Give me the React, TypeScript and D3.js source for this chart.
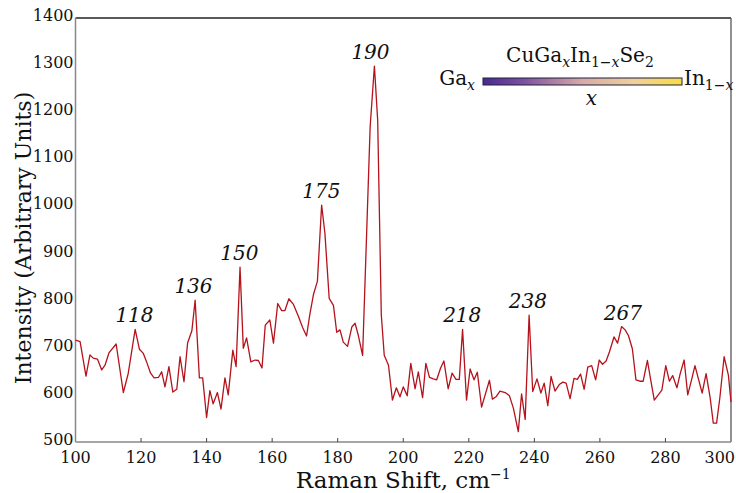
import React from 'react';
import * as d3 from 'd3';

// Raman spectrum
const ramanShift = [
  100, 101.4, 103.2, 104.4, 105.4, 106.7, 108, 109, 110.2, 112.4, 114.6, 116.1, 118.2, 119.5, 120.7, 121.7,
  122.9, 124, 125.3, 126.3, 127.3, 128.5, 129.7, 130.9, 131.9, 133.1, 134.2, 135.5, 136.5, 137.8, 138.8, 140,
  141, 142, 143.3, 144.4, 145.6, 146.6, 148, 149, 150.2, 151.2, 152.2, 153.5, 154.8, 155.8, 156.9, 157.9,
  159.3, 160.4, 161.7, 162.9, 163.9, 165.1, 166.5, 168, 169.3, 170.5, 171.5, 172.6, 173.8, 175.1, 176.1, 177.4,
  178.7, 179.7, 180.7, 181.7, 183, 184.3, 185.3, 186.3, 187.6, 189.9, 191.2, 192.2, 193.3, 194.2, 195.5, 196.7,
  197.9, 199, 200, 201.2, 202.3, 203.6, 204.6, 205.9, 206.9, 208, 209.2, 210.2, 211.4, 212.4, 213.7, 214.9,
  216.1, 217.1, 218.1, 219.3, 220.4, 221.6, 222.6, 223.9, 226.3, 227.2, 228.3, 229.5, 231.1, 232.4, 233.6, 235.1,
  236.1, 237.2, 238.4, 239.5, 240.8, 242, 243, 244.1, 245.1, 246.3, 247.6, 248.7, 249.7, 250.9, 252.1, 253.1,
  254.1, 255.2, 256.3, 257.5, 258.7, 259.8, 260.8, 261.9, 262.9, 264.3, 265.4, 266.6, 267.7, 268.7, 269.9, 271,
  272.2, 273.2, 274.5, 275.5, 276.6, 277.8, 278.9, 280.1, 281.2, 282.2, 283.5, 284.5, 285.7, 286.8, 288, 289,
  290.1, 291.2, 292.4, 293.6, 294.6, 295.6, 296.6, 297.9, 299.2, 300,
];
const intensity = [
  716, 713, 640, 685, 678, 676, 653, 663, 689, 708, 605, 646, 739, 697, 688, 670,
  646, 636, 637, 649, 617, 660, 606, 612, 681, 628, 710, 736, 801, 636, 636, 552,
  609, 581, 605, 570, 636, 600, 695, 660, 871, 699, 721, 670, 674, 673, 657, 748,
  759, 710, 794, 779, 779, 804, 792, 767, 743, 725, 771, 813, 841, 1003, 943, 805,
  790, 733, 738, 712, 703, 744, 752, 726, 684, 1169, 1298, 1183, 770, 684, 663, 589,
  615, 596, 617, 598, 667, 613, 649, 594, 667, 637, 634, 632, 657, 672, 613, 646,
  633, 633, 739, 589, 655, 632, 648, 574, 631, 591, 596, 608, 605, 598, 572, 522,
  602, 548, 769, 607, 634, 604, 625, 577, 639, 608, 622, 627, 625, 592, 635, 633,
  644, 612, 659, 662, 632, 674, 665, 672, 691, 723, 710, 745, 738, 726, 698, 632,
  629, 629, 673, 632, 589, 600, 610, 662, 629, 641, 615, 645, 674, 600, 633, 662,
  633, 604, 645, 596, 540, 540, 594, 681, 642, 585,
];

// labelled peaks
const peakShift = [118, 136, 150, 175, 190, 218, 238, 267];
const peakIntensity = [739, 801, 871, 1003, 1298, 739, 769, 745];

const xTicks = [100, 120, 140, 160, 180, 200, 220, 240, 260, 280, 300];
const yTicks = [500, 600, 700, 800, 900, 1000, 1100, 1200, 1300, 1400];

const width = 736;
const height = 493;
const margins = { top: 18, right: 5, bottom: 51, left: 75.5 };
const serif = "'DejaVu Serif', serif";

export default function App() {
  const x = d3.scaleLinear().domain([100, 300]).range([margins.left, width - margins.right]);
  const y = d3.scaleLinear().domain([500, 1400]).range([height - margins.bottom, margins.top]);

  const points: [number, number][] = ramanShift.map((s, i) => [s, intensity[i]]);
  const line = d3.line<[number, number]>()
    .x(d => x(d[0]))
    .y(d => y(d[1]));

  const x0 = x(100), x1 = x(300), yb = y(500), yt = y(1400);

  // legend box
  const barX = 483, barY = 78, barW = 199, barH = 7;
  const tx = { fontFamily: serif };

  return (
    <svg width={width} height={height} style={{ position: 'absolute', left: 0, top: 0, background: '#fff' }}>
      <defs>
        <linearGradient id="cbar" x1="0" x2="1" y1="0" y2="0">
          <stop offset="0" stopColor="#4a2a8c" />
          <stop offset="0.2" stopColor="#7d4f9e" />
          <stop offset="0.5" stopColor="#d8aaa6" />
          <stop offset="0.75" stopColor="#efcf9c" />
          <stop offset="1" stopColor="#fadc45" />
        </linearGradient>
      </defs>

      {/* frame */}
      <line x1={x0} x2={x1} y1={yt} y2={yt} stroke="#222" strokeWidth={1.3} />
      <line x1={x1} x2={x1} y1={yt} y2={yb} stroke="#555" strokeWidth={1.3} />
      <line x1={x0} x2={x0} y1={yt} y2={yb} stroke="#888" strokeWidth={1.5} />
      <line x1={x0} x2={x1} y1={yb} y2={yb} stroke="#888" strokeWidth={1.5} />

      {/* x axis */}
      {xTicks.map(t => (
        <g key={'x' + t}>
          {t > 100 && t < 300 && <line x1={x(t)} x2={x(t)} y1={yb} y2={yb - 4} stroke="#444" strokeWidth={1} />}
          <text x={t === 300 ? 735 : x(t)} y={463} textAnchor={t === 300 ? 'end' : 'middle'}
            fontSize={16} fill="#111" style={tx}>{t}</text>
        </g>
      ))}
      {/* y axis */}
      {yTicks.map(t => (
        <text key={'y' + t} x={x0 - 2} y={y(t) + 3} textAnchor="end" fontSize={16} fill="#111" style={tx}>{t}</text>
      ))}

      <text x={(x0 + x1) / 2} y={488} textAnchor="middle" fontSize={23} fill="#111" style={tx}>
        Raman Shift, cm<tspan dy={-9} fontSize={14}>−1</tspan>
      </text>
      <text transform={`translate(31, 238) rotate(-90)`} textAnchor="middle" fontSize={22} fill="#111" style={tx}>
        Intensity (Arbitrary Units)
      </text>

      {/* spectrum */}
      <path d={line(points) || ''} fill="none" stroke="#b5121b" strokeWidth={1.3} strokeLinejoin="round" />

      {/* peak labels */}
      {peakShift.map((p, i) => (
        <text key={'p' + p} x={x(p)} y={y(peakIntensity[i]) - 7} textAnchor="middle"
          fontSize={20} fontStyle="italic" fill="#111" style={tx}>{p}</text>
      ))}

      {/* legend */}
      <text x={580} y={62} textAnchor="middle" fontSize={20} fill="#111" style={tx}>
        CuGa<tspan dy={5} fontSize={14} fontStyle="italic">x</tspan>
        <tspan dy={-5}>In</tspan>
        <tspan dy={5} fontSize={14}>1−<tspan fontStyle="italic">x</tspan></tspan>
        <tspan dy={-5}>Se</tspan>
        <tspan dy={5} fontSize={14}>2</tspan>
      </text>
      <rect x={barX} y={barY} width={barW} height={barH} fill="url(#cbar)" stroke="#1d2340" strokeWidth={1} />
      <text x={barX - 8} y={85} textAnchor="end" fontSize={20} fill="#111" style={tx}>
        Ga<tspan dy={5} fontSize={14} fontStyle="italic">x</tspan>
      </text>
      <text x={barX + barW + 2} y={85} textAnchor="start" fontSize={20} fill="#111" style={tx}>
        In<tspan dy={5} fontSize={14}>1−<tspan fontStyle="italic">x</tspan></tspan>
      </text>
      <text x={barX + barW / 2 + 9} y={105} textAnchor="middle" fontSize={20} fontStyle="italic" fill="#111" style={tx}>x</text>
    </svg>
  );
}
